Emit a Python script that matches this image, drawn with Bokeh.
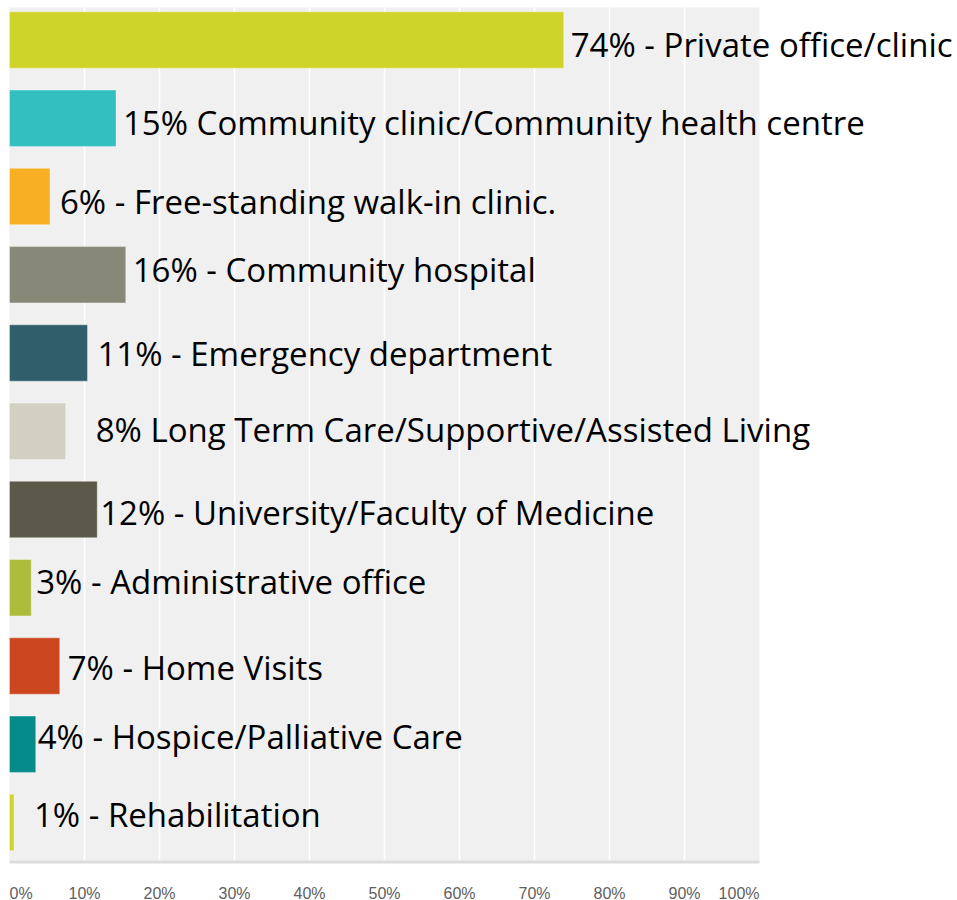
from bokeh.plotting import figure
from bokeh.models import ColumnDataSource, Range1d
from bokeh.core.properties import value
from bokeh.embed import file_html
from bokeh.resources import INLINE

# ---------------- data ----------------
categories = [
    "Private office/clinic",
    "Community clinic/Community health centre",
    "Free-standing walk-in clinic.",
    "Community hospital",
    "Emergency department",
    "Long Term Care/Supportive/Assisted Living",
    "University/Faculty of Medicine",
    "Administrative office",
    "Home Visits",
    "Hospice/Palliative Care",
    "Rehabilitation",
]
label_texts = [
    "74% - Private office/clinic",
    "15% Community clinic/Community health centre",
    "6% - Free-standing walk-in clinic.",
    "16% - Community hospital",
    "11% - Emergency department",
    "8% Long Term Care/Supportive/Assisted Living",
    "12% - University/Faculty of Medicine",
    "3% - Administrative office",
    "7% - Home Visits",
    "4% - Hospice/Palliative Care",
    "1% - Rehabilitation",
]
bar_values = [73.9, 14.2, 5.4, 15.5, 10.4, 7.5, 11.7, 2.9, 6.7, 3.5, 0.6]
bar_colors = ["#CFD42B", "#33BEC0", "#F8B022", "#878878", "#305E6B", "#D1D0C2",
              "#5B5A4A", "#ABBD3A", "#CB461D", "#048B8A", "#CFD42B"]
tick_values = [0, 10, 20, 30, 40, 50, 60, 70, 80, 90, 100]
tick_labels = ["0%", "10%", "20%", "30%", "40%", "50%", "60%", "70%", "80%", "90%", "100%"]

# ---------------- layout / style ----------------
W, H = 957, 900
PX_PER_PCT = 7.5
PX_PER_ROW = 78.25
x_start = -9 / PX_PER_PCT
y_top = -39.5 / PX_PER_ROW
# hand placement of each label relative to its bar end (screen px)
label_dx = [7, 7, 10, 7, 10, 30, 3, 5, 8, 2, 20]
label_dy = [4, 4, 5, -5, 0, -2, 3, -6, 1, -8, -8]

rows = list(range(len(categories)))
src = ColumnDataSource(dict(row=rows, val=bar_values, color=bar_colors,
                            label=label_texts, dx=label_dx, dy=label_dy, cat=categories))

p = figure(width=W, height=H, output_backend="svg", toolbar_location=None,
           x_range=Range1d(x_start, x_start + W / PX_PER_PCT),
           y_range=Range1d(y_top + H / PX_PER_ROW, y_top),
           x_axis_location=None, y_axis_location=None,
           min_border=0, outline_line_color=None, background_fill_color="white",
           border_fill_color="white")
p.grid.visible = False

area_top = y_top + 7 / PX_PER_ROW
area_bottom = y_top + 860 / PX_PER_ROW
axis_y = y_top + 861.5 / PX_PER_ROW
tick_label_y = y_top + 892.5 / PX_PER_ROW

# plot area background
p.quad(left=[tick_values[0]], right=[tick_values[-1]], top=[area_top], bottom=[area_bottom],
       fill_color="#f0f0f0", line_color=None)
# vertical grid lines
grid_x = tick_values[1:-1]
p.segment(x0=grid_x, x1=grid_x, y0=[area_top] * len(grid_x), y1=[area_bottom] * len(grid_x),
          line_color="white", line_width=1.5)
# axis line
p.segment(x0=[tick_values[0]], x1=[tick_values[-1]], y0=[axis_y], y1=[axis_y],
          line_color="#dcdcdc", line_width=3)

# bars
p.hbar(y="row", left=0, right="val", height=0.72, fill_color="color",
       line_color="white", line_alpha=0.35, line_width=1, source=src)

# bar labels
p.text(x="val", y="row", text="label", x_offset="dx", y_offset="dy",
       text_font=value("Open Sans"), text_font_size="33px", text_color="#000000",
       text_align="left", text_baseline="middle", source=src)

# tick labels
aligns = ["left"] + ["center"] * (len(tick_values) - 2) + ["right"]
tsrc = ColumnDataSource(dict(x=tick_values, t=tick_labels, a=aligns,
                             y=[tick_label_y] * len(tick_values)))
p.text(x="x", y="y", text="t", text_align="a", text_baseline="middle",
       text_font=value("Liberation Sans"), text_font_size="16px", text_color="#606060",
       source=tsrc)

open("out.html", "w").write(file_html(p, INLINE))
